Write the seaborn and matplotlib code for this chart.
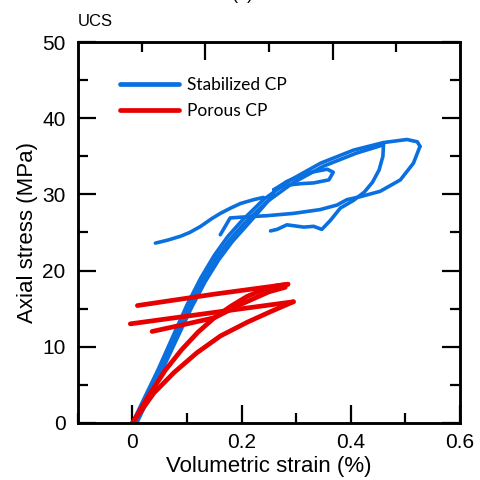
import numpy as np
import pandas as pd
import matplotlib
matplotlib.use("Agg")
import matplotlib.pyplot as plt
from matplotlib.lines import Line2D
from matplotlib.ticker import MultipleLocator, FixedLocator, NullFormatter
import seaborn as sns

sns.set_style("ticks")
plt.rcParams['font.family'] = ['Liberation Sans', 'DejaVu Sans']
plt.rcParams.update({"text.color": "black", "axes.labelcolor": "black",
                     "xtick.color": "black", "ytick.color": "black",
                     "axes.edgecolor": "black"})

# ---------------- data ----------------
series_names = ["Stabilized CP", "Porous CP"]
colors = {"Stabilized CP": "#0A70E0", "Porous CP": "#E60000"}

# Stabilized CP: loading curves (overlapping, thick envelope)
stab_load1_x = [0, 0.02, 0.047, 0.075, 0.10, 0.125, 0.15, 0.175, 0.20, 0.24, 0.29, 0.345, 0.405, 0.46, 0.503, 0.522, 0.527]
stab_load1_y = [0, 3.0, 7.0, 11.5, 15.5, 19.0, 22.0, 24.5, 26.5, 29.3, 31.9, 34.1, 35.8, 36.8, 37.2, 36.9, 36.3]
stab_load2_x = [0.004, 0.024, 0.051, 0.079, 0.104, 0.129, 0.154, 0.179, 0.204, 0.244, 0.294, 0.35, 0.41, 0.46]
stab_load2_y = [0, 3.0, 7.0, 11.4, 15.3, 18.7, 21.7, 24.1, 26.1, 28.9, 31.5, 33.7, 35.4, 36.5]
stab_load3_x = [0.008, 0.028, 0.055, 0.083, 0.108, 0.133, 0.158, 0.183, 0.208, 0.235, 0.259]
stab_load3_y = [0, 3.0, 7.0, 11.3, 15.1, 18.5, 21.4, 23.8, 25.8, 28.0, 30.0]
# outer unloading loop
stab_outer_x = [0.527, 0.515, 0.491, 0.454, 0.418, 0.393, 0.375, 0.344, 0.295, 0.247, 0.198, 0.179, 0.170, 0.161]
stab_outer_y = [36.3, 34.1, 31.9, 30.4, 29.7, 29.3, 28.6, 28.0, 27.5, 27.2, 27.0, 26.9, 25.8, 24.7]
# inner unloading loop
stab_inner_x = [0.46, 0.459, 0.452, 0.44, 0.425, 0.405, 0.381, 0.363, 0.347, 0.332, 0.314, 0.283, 0.265, 0.253]
stab_inner_y = [36.5, 35.0, 33.2, 31.6, 30.3, 29.2, 28.2, 26.6, 25.4, 25.8, 25.7, 26.0, 25.4, 25.2]
# small loop
stab_small_x = [0.259, 0.283, 0.32, 0.357, 0.368, 0.36, 0.332, 0.308, 0.283, 0.259]
stab_small_y = [30.6, 31.7, 32.8, 33.3, 32.9, 31.9, 31.5, 31.4, 31.2, 30.6]
# left tail
stab_tail_x = [0.042, 0.065, 0.088, 0.105, 0.125, 0.145, 0.161, 0.18, 0.198, 0.222, 0.24]
stab_tail_y = [23.6, 24.0, 24.5, 25.0, 25.8, 26.8, 27.5, 28.2, 28.8, 29.3, 29.6]

# Porous CP
por_load1_x = [0, 0.03, 0.06, 0.09, 0.12, 0.15, 0.18, 0.21, 0.24, 0.265, 0.285]
por_load1_y = [0, 3.6, 6.9, 9.6, 11.9, 13.8, 15.3, 16.6, 17.5, 18.0, 18.2]
por_unload1_x = [0.285, 0.15, 0.009]
por_unload1_y = [18.2, 16.9, 15.4]
por_load2_x = [0, 0.039, 0.076, 0.118, 0.161, 0.21, 0.253, 0.295]
por_load2_y = [0, 3.9, 6.6, 9.2, 11.4, 13.2, 14.6, 15.9]
por_unload2_x = [0.295, 0.15, -0.004]
por_unload2_y = [15.9, 14.5, 13.0]
por_reload_x = [0.036, 0.10, 0.15, 0.20, 0.25, 0.28]
por_reload_y = [12.0, 13.0, 13.8, 15.6, 17.2, 17.8]

x_ticks = [0, 0.2, 0.4, 0.6]
x_tick_labels = ["0", "0.2", "0.4", "0.6"]
y_ticks = [0, 10, 20, 30, 40, 50]

# ---------------- long-form table ----------------
segments = [
    ("Stabilized CP", "s1", stab_load1_x, stab_load1_y),
    ("Stabilized CP", "s2", stab_load2_x, stab_load2_y),
    ("Stabilized CP", "s3", stab_load3_x, stab_load3_y),
    ("Stabilized CP", "s4", stab_outer_x, stab_outer_y),
    ("Stabilized CP", "s5", stab_inner_x, stab_inner_y),
    ("Stabilized CP", "s6", stab_small_x, stab_small_y),
    ("Stabilized CP", "s7", stab_tail_x, stab_tail_y),
    ("Porous CP", "p1", por_load1_x, por_load1_y),
    ("Porous CP", "p2", por_unload1_x, por_unload1_y),
    ("Porous CP", "p3", por_load2_x, por_load2_y),
    ("Porous CP", "p4", por_unload2_x, por_unload2_y),
    ("Porous CP", "p5", por_reload_x, por_reload_y),
]
rows = []
for name, seg, xs, ys in segments:
    for i, (xv, yv) in enumerate(zip(xs, ys)):
        rows.append({"series": name, "seg": seg, "order": i, "x": xv, "y": yv})
df = pd.DataFrame(rows)

fig = plt.figure(figsize=(4.81, 4.80), dpi=100)
ax = fig.add_axes([0.162, 0.119, 0.794, 0.7935])

for name, lw in [("Stabilized CP", 2.6), ("Porous CP", 3.4)]:
    sub = df[df.series == name]
    sns.lineplot(data=sub, x="x", y="y", units="seg", estimator=None, sort=False,
                 color=colors[name], lw=lw, ax=ax, legend=False,
                 solid_capstyle="round", solid_joinstyle="round")

ax.set_xlim(-0.1, 0.6)
ax.set_ylim(0, 50)
ax.xaxis.set_major_locator(FixedLocator(x_ticks))
ax.xaxis.set_minor_locator(MultipleLocator(0.1))
ax.set_xticklabels(x_tick_labels)
ax.yaxis.set_major_locator(FixedLocator(y_ticks))
ax.yaxis.set_minor_locator(MultipleLocator(5))
ax.set_yticklabels([str(v) for v in y_ticks])
ax.tick_params(axis="y", which="major", pad=9)
ax.tick_params(axis="x", which="major", pad=7)
ax.tick_params(which="major", direction="in", length=13, width=1.6, labelsize=15,
               right=True, top=False)
ax.tick_params(which="minor", direction="in", length=7, width=1.6, right=True, top=False)
for s in ax.spines.values():
    s.set_linewidth(1.8)
    s.set_visible(True)
ax.set_xlabel("Volumetric strain (%)", fontsize=16, labelpad=3)
ax.set_ylabel("Axial stress (MPa)", fontsize=16, labelpad=3)

# top axis with its own tick division
axt = ax.twiny()
axt.set_xlim(0, 6)
axt.xaxis.set_major_locator(FixedLocator([2, 4]))
axt.xaxis.set_minor_locator(FixedLocator([1, 3, 5]))
axt.xaxis.set_major_formatter(NullFormatter())
axt.tick_params(which="major", direction="in", length=13, width=1.6, top=True, labeltop=False)
axt.tick_params(which="minor", direction="in", length=7, width=1.6, top=True)
for s in axt.spines.values():
    s.set_linewidth(1.8)

handles = [Line2D([], [], color=colors[n], lw=3.4) for n in series_names]
leg = ax.legend(handles, series_names, loc="upper left", bbox_to_anchor=(0.07, 0.95),
                frameon=False, handlelength=3.4, handletextpad=0.45, labelspacing=0.6,
                prop={"family": ["Lato", "DejaVu Sans"], "size": 12.5})

fig.text(0.162, 0.94, "UCS", fontsize=12, ha="left", va="bottom")
fig.text(0.505, 1.0 + 1.0 / 480, "(a)", fontsize=13, ha="center", va="baseline")

fig.savefig("out.png", dpi=100)
